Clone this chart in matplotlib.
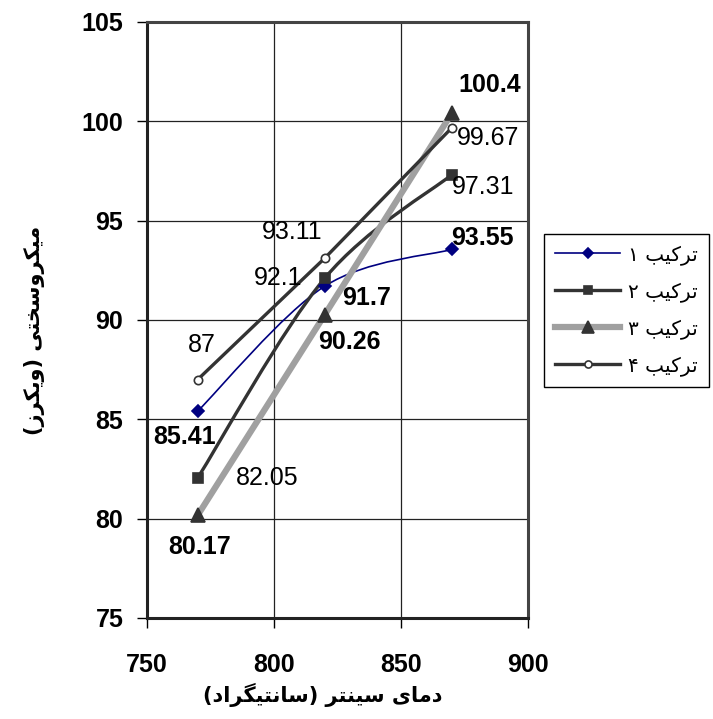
import matplotlib
matplotlib.use('Agg')
import matplotlib.pyplot as plt
from matplotlib.path import Path
from matplotlib.patches import PathPatch
from matplotlib.lines import Line2D

# ---------------- data ----------------
temps = [770, 820, 870]
s1 = [85.41, 91.7, 93.55]
s2 = [82.05, 92.1, 97.31]
s3 = [80.17, 90.26, 100.4]
s4 = [87, 93.11, 99.67]
series_names = ['ترکیب ۱', 'ترکیب ۲', 'ترکیب ۳', 'ترکیب ۴']
x_ticks = [750, 800, 850, 900]
y_ticks = [75, 80, 85, 90, 95, 100, 105]
x_title = 'دمای سینتر (سانتیگراد)'
y_title = 'میکروسختی (ویکرز)'

# ---------------- simple Persian shaping (matplotlib has no bidi/shaping) ----------------
FORMS = {
    'ا': ('\uFE8D', '\uFE8E', None, None),
    'ب': ('\uFE8F', '\uFE90', '\uFE91', '\uFE92'),
    'ت': ('\uFE95', '\uFE96', '\uFE97', '\uFE98'),
    'خ': ('\uFEA5', '\uFEA6', '\uFEA7', '\uFEA8'),
    'د': ('\uFEA9', '\uFEAA', None, None),
    'ر': ('\uFEAD', '\uFEAE', None, None),
    'ز': ('\uFEAF', '\uFEB0', None, None),
    'س': ('\uFEB1', '\uFEB2', '\uFEB3', '\uFEB4'),
    'م': ('\uFEE1', '\uFEE2', '\uFEE3', '\uFEE4'),
    'ن': ('\uFEE5', '\uFEE6', '\uFEE7', '\uFEE8'),
    'و': ('\uFEED', '\uFEEE', None, None),
    '\u06CC': ('\uFBFC', '\uFBFD', '\uFBFE', '\uFBFF'),
    '\u06A9': ('\uFB8E', '\uFB8F', '\uFB90', '\uFB91'),
    'گ': ('\uFB92', '\uFB93', '\uFB94', '\uFB95'),
}


def shape(s):
    s = s.replace('\u064A', '\u06CC').replace('\u0643', '\u06A9')
    out = []
    for i, ch in enumerate(s):
        if ch not in FORMS:
            out.append(ch)
            continue
        f = FORMS[ch]
        prev = s[i - 1] if i > 0 else ''
        nxt = s[i + 1] if i + 1 < len(s) else ''
        pj = prev in FORMS and FORMS[prev][2] is not None
        nj = nxt in FORMS and f[2] is not None
        if pj and nj:
            out.append(f[3])
        elif pj:
            out.append(f[1])
        elif nj:
            out.append(f[2])
        else:
            out.append(f[0])
    mirror = {'(': ')', ')': '('}
    return ''.join(mirror.get(c, c) for c in reversed(out))


def smooth_path(xs, ys):
    pts = list(zip(xs, ys))
    n = len(pts)
    verts = [pts[0]]
    codes = [Path.MOVETO]
    for i in range(n - 1):
        p0 = pts[i - 1] if i > 0 else pts[i]
        p1 = pts[i]
        p2 = pts[i + 1]
        p3 = pts[i + 2] if i + 2 < n else pts[i + 1]
        c1 = (p1[0] + (p2[0] - p0[0]) / 6.0, p1[1] + (p2[1] - p0[1]) / 6.0)
        c2 = (p2[0] - (p3[0] - p1[0]) / 6.0, p2[1] - (p3[1] - p1[1]) / 6.0)
        verts += [c1, c2, p2]
        codes += [Path.CURVE4] * 3
    return Path(verts, codes)


NUM_FONT = 'Liberation Sans'
AR_FONT = ['DejaVu Sans']

fig = plt.figure(figsize=(7.13, 7.19), dpi=100)
ax = fig.add_axes([0.206, 0.1405, 0.5345, 0.829])

styles = [
    dict(color='#000080', lw=1.2, marker='D', ms=6.5, mfc='#000080', mec='#000080', smooth=True),
    dict(color='#333333', lw=2.4, marker='s', ms=7.5, mfc='#333333', mec='#333333', smooth=True),
    dict(color='#a0a0a0', lw=4.5, marker='^', ms=9.5, mfc='#333333', mec='#333333', smooth=False),
    dict(color='#333333', lw=2.4, marker='o', ms=6, mfc='white', mec='#333333', smooth=False),
]
all_series = [s1, s2, s3, s4]
label_bold = [True, False, True, False]
label_offsets = [
    [(-13, -26), (42, -12), (31, 11)],
    [(69, 0), (-47, 0), (31, -12)],
    [(2, -32), (25, -27), (38, 28)],
    [(4, 35), (-33, 26), (36, -10)],
]

handles = []
for k, (ys, st) in enumerate(zip(all_series, styles)):
    if st['smooth']:
        ax.add_patch(PathPatch(smooth_path(temps, ys), fill=False, edgecolor=st['color'],
                               lw=st['lw'], zorder=3 + k * 0.1, capstyle='round'))
    else:
        ax.plot(temps, ys, color=st['color'], lw=st['lw'], zorder=3 + k * 0.1)
    ax.plot(temps, ys, linestyle='none', marker=st['marker'], ms=st['ms'],
            mfc=st['mfc'], mec=st['mec'], mew=1.2, zorder=5)
    handles.append(Line2D([], [], color=st['color'], lw=st['lw'], marker=st['marker'],
                          ms=st['ms'] * 0.85, mfc=st['mfc'], mec=st['mec'], mew=1.2))
    for x, y, off in zip(temps, ys, label_offsets[k]):
        ax.annotate(f'{y:g}', (x, y), xytext=off, textcoords='offset pixels',
                    ha='center', va='center', fontsize=18, family=NUM_FONT,
                    fontweight='bold' if label_bold[k] else 'normal', color='black', zorder=6)

ax.set_xlim(750, 900)
ax.set_ylim(75, 105)
ax.set_xticks(x_ticks)
ax.set_yticks(y_ticks)
ax.set_xticklabels([str(v) for v in x_ticks], fontsize=18, fontweight='bold', family=NUM_FONT)
ax.set_yticklabels([str(v) for v in y_ticks], fontsize=18, fontweight='bold', family=NUM_FONT)
ax.tick_params(axis='x', direction='out', length=7, width=1, pad=18, color='black')
ax.tick_params(axis='y', direction='out', length=7, width=1, pad=10, color='black')
ax.grid(True, color='#222222', lw=0.9)
ax.set_axisbelow(True)
for side in ['left', 'bottom']:
    ax.spines[side].set_linewidth(2.2)
    ax.spines[side].set_color('#222222')
for side in ['top', 'right']:
    ax.spines[side].set_linewidth(2.2)
    ax.spines[side].set_color('#444444')

fig.text(0.452, 0.033, shape(x_title), ha='center', va='center', fontsize=15,
         fontweight='bold', family=AR_FONT)
fig.text(0.048, 0.54, shape(y_title), ha='center', va='center', rotation=90,
         fontsize=15, fontweight='bold', family=AR_FONT)

leg = fig.legend(handles, [shape(n) for n in series_names], loc='center',
                 bbox_to_anchor=(0.8787, 0.5682), bbox_transform=fig.transFigure,
                 prop={'family': AR_FONT, 'size': 14.5}, handlelength=3.2,
                 labelspacing=0.85, borderpad=0.55, handletextpad=0.4, borderaxespad=0,
                 fancybox=False, framealpha=1, edgecolor='black')
leg.get_frame().set_linewidth(1.0)

fig.savefig('out.png', dpi=100)
